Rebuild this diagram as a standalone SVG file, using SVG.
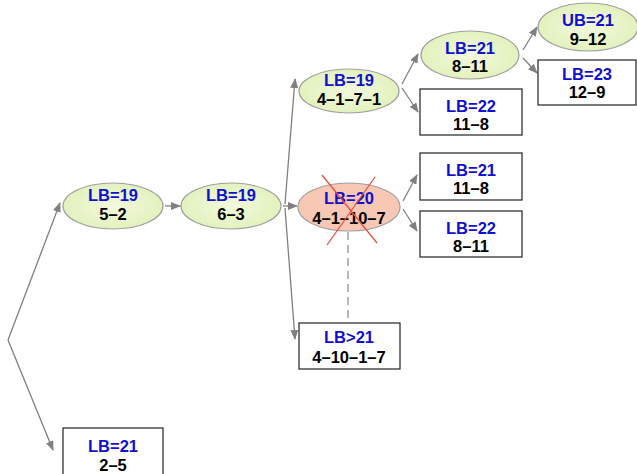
<svg xmlns="http://www.w3.org/2000/svg" width="637" height="474" viewBox="0 0 637 474">
<defs>
<marker id="ah" markerWidth="10" markerHeight="8" refX="9" refY="4" orient="auto" markerUnits="userSpaceOnUse">
<path d="M0,0 L10,4 L0,8 Z" fill="#808080"/>
</marker>
<radialGradient id="gg" cx="50%" cy="50%" r="60%">
<stop offset="0" stop-color="#f2f9dc"/>
<stop offset="1" stop-color="#e0f0b8"/>
</radialGradient>
</defs>
<style>
.el{fill:url(#gg);stroke:#a0a0a0;stroke-width:1.2}
.bad{fill:#f8c8b4;stroke:#a0a0a0;stroke-width:1.2}
.bx{fill:#ffffff;stroke:#222222;stroke-width:1.2}
.c{fill:none;stroke:#808080;stroke-width:1.3}
.t{font-family:"Liberation Sans",Arial,sans-serif;font-weight:bold;font-size:16.5px;text-anchor:middle}
.b{fill:#1010d0}
.k{fill:#000000}
</style>
<rect width="637" height="474" fill="#ffffff"/>
<g id="connectors">
<line class="c" x1="8" y1="340" x2="60" y2="203" marker-end="url(#ah)"/>
<line class="c" x1="8" y1="340" x2="53" y2="450" marker-end="url(#ah)"/>
<line class="c" x1="165" y1="206" x2="180" y2="206" marker-end="url(#ah)"/>
<line class="c" x1="283" y1="206" x2="297" y2="206" marker-end="url(#ah)"/>
<line class="c" x1="285" y1="204" x2="295" y2="79" marker-end="url(#ah)"/>
<line class="c" x1="285" y1="208" x2="295" y2="339" marker-end="url(#ah)"/>
<line class="c" x1="402" y1="84" x2="418" y2="54" marker-end="url(#ah)"/>
<line class="c" x1="402" y1="88" x2="418" y2="112" marker-end="url(#ah)"/>
<line class="c" x1="403" y1="201" x2="417" y2="175" marker-end="url(#ah)"/>
<line class="c" x1="403" y1="209" x2="417" y2="231" marker-end="url(#ah)"/>
<line class="c" x1="523" y1="50" x2="537" y2="27" marker-end="url(#ah)"/>
<line class="c" x1="523" y1="58" x2="537" y2="73" marker-end="url(#ah)"/>
<line x1="348" y1="232" x2="348" y2="320" stroke="#707070" stroke-width="1" stroke-dasharray="8,5"/>
</g>
<g id="n-5-2">
<ellipse class="el" cx="113" cy="206" rx="50" ry="23"/>
<text class="t b" x="113" y="201">LB=19</text>
<text class="t k" x="113" y="220">5–2</text>
</g>
<g id="n-2-5">
<rect class="bx" x="63" y="428" width="100" height="50"/>
<text class="t b" x="113" y="452">LB=21</text>
<text class="t k" x="113" y="471">2–5</text>
</g>
<g id="n-6-3">
<ellipse class="el" cx="231" cy="206" rx="50" ry="23"/>
<text class="t b" x="231" y="201">LB=19</text>
<text class="t k" x="231" y="220">6–3</text>
</g>
<g id="n-4-1-7-1">
<ellipse class="el" cx="349" cy="91" rx="50" ry="22"/>
<text class="t b" x="349" y="86">LB=19</text>
<text class="t k" x="349" y="105">4–1–7–1</text>
</g>
<g id="n-4-1-10-7">
<ellipse class="bad" cx="349" cy="207" rx="51" ry="24"/>
<text class="t b" x="349" y="204">LB=20</text>
<text class="t k" x="349" y="224">4–1–10–7</text>
<line x1="322" y1="175" x2="377" y2="243" stroke="#e85040" stroke-width="1.3"/>
<line x1="375" y1="177" x2="327" y2="245" stroke="#e85040" stroke-width="1.3"/>
</g>
<g id="n-4-10-1-7">
<rect class="bx" x="299" y="323" width="101" height="46"/>
<text class="t b" x="349" y="343">LB&gt;21</text>
<text class="t k" x="349" y="363">4–10–1–7</text>
</g>
<g id="n-8-11a">
<ellipse class="el" cx="470" cy="55" rx="49" ry="24"/>
<text class="t b" x="470" y="54">LB=21</text>
<text class="t k" x="470" y="72">8–11</text>
</g>
<g id="n-11-8a">
<rect class="bx" x="420" y="89" width="102" height="46"/>
<text class="t b" x="471" y="112">LB=22</text>
<text class="t k" x="471" y="130">11–8</text>
</g>
<g id="n-11-8b">
<rect class="bx" x="420" y="153" width="102" height="47"/>
<text class="t b" x="471" y="176">LB=21</text>
<text class="t k" x="471" y="194">11–8</text>
</g>
<g id="n-8-11b">
<rect class="bx" x="420" y="211" width="102" height="46"/>
<text class="t b" x="471" y="234">LB=22</text>
<text class="t k" x="471" y="252">8–11</text>
</g>
<g id="n-9-12">
<ellipse class="el" cx="588" cy="27" rx="50" ry="24"/>
<text class="t b" x="588" y="26">UB=21</text>
<text class="t k" x="588" y="45">9–12</text>
</g>
<g id="n-12-9">
<rect class="bx" x="538" y="60" width="98" height="45"/>
<text class="t b" x="587" y="80">LB=23</text>
<text class="t k" x="587" y="98">12–9</text>
</g>
</svg>
